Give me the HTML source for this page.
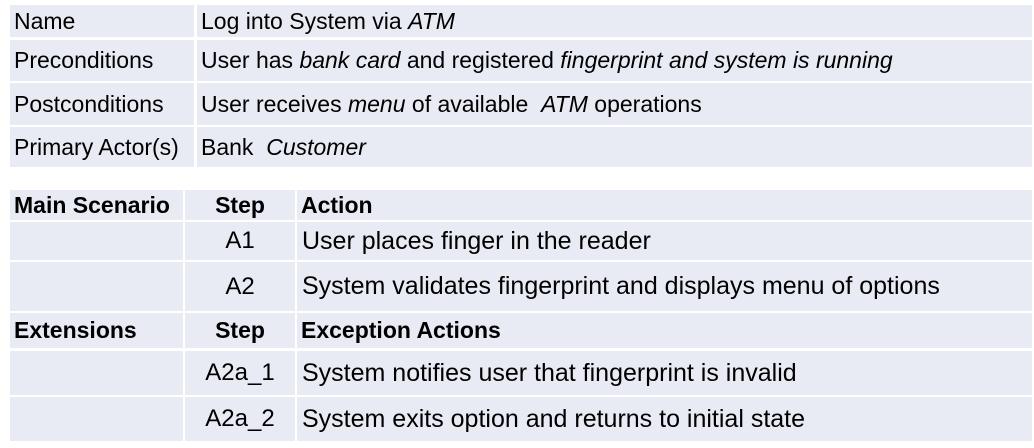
<!DOCTYPE html>
<html><head><style>
body{margin:0;width:1034px;height:448px;background:#fff;position:relative;overflow:hidden;font-family:"Liberation Sans",sans-serif;color:#000}
.c{position:absolute;background:#e8ebf4;font-size:23px;display:flex;align-items:center;box-sizing:border-box;padding-left:4px;white-space:nowrap}
.l{font-size:25px;padding-left:5px}
.s{font-size:24px}
.b{font-weight:bold;font-size:23px}
.ctr{justify-content:center;padding-left:0}
</style></head><body>
<div class="c" style="left:10px;top:5px;width:184px;height:32px">Name</div>
<div class="c" style="left:197px;top:5px;width:835px;height:32px">Log into System via&nbsp;<i>ATM</i></div>
<div class="c" style="left:10px;top:40px;width:184px;height:41px">Preconditions</div>
<div class="c" style="left:197px;top:40px;width:835px;height:41px">User has&nbsp;<i>bank card</i>&nbsp;and registered&nbsp;<i>fingerprint and system is running</i></div>
<div class="c" style="left:10px;top:83px;width:184px;height:42px">Postconditions</div>
<div class="c" style="left:197px;top:83px;width:835px;height:42px">User receives&nbsp;<i>menu</i>&nbsp;of available&nbsp;&nbsp;<i>ATM</i>&nbsp;operations</div>
<div class="c" style="left:10px;top:127px;width:184px;height:40px">Primary Actor(s)</div>
<div class="c" style="left:197px;top:127px;width:835px;height:40px">Bank&nbsp;&nbsp;<i>Customer</i></div>

<div class="c b" style="left:10px;top:190px;width:173px;height:30px">Main Scenario</div>
<div class="c b ctr" style="left:185px;top:190px;width:110px;height:30px">Step</div>
<div class="c b" style="left:297px;top:190px;width:735px;height:30px">Action</div>
<div class="c" style="left:10px;top:222px;width:173px;height:38px"></div>
<div class="c s ctr" style="left:185px;top:222px;width:110px;height:38px">A1</div>
<div class="c l" style="left:297px;top:222px;width:735px;height:38px">User places finger in the reader</div>
<div class="c" style="left:10px;top:262px;width:173px;height:49px"></div>
<div class="c s ctr" style="left:185px;top:262px;width:110px;height:49px">A2</div>
<div class="c l" style="left:297px;top:262px;width:735px;height:49px">System validates fingerprint and displays menu of options</div>
<div class="c b" style="left:10px;top:313px;width:173px;height:35px">Extensions</div>
<div class="c b ctr" style="left:185px;top:313px;width:110px;height:35px">Step</div>
<div class="c b" style="left:297px;top:313px;width:735px;height:35px">Exception Actions</div>
<div class="c" style="left:10px;top:351px;width:173px;height:44px"></div>
<div class="c s ctr" style="left:185px;top:351px;width:110px;height:44px">A2a_1</div>
<div class="c l" style="left:297px;top:351px;width:735px;height:44px">System notifies user that fingerprint is invalid</div>
<div class="c" style="left:10px;top:397px;width:173px;height:44px"></div>
<div class="c s ctr" style="left:185px;top:397px;width:110px;height:44px">A2a_2</div>
<div class="c l" style="left:297px;top:397px;width:735px;height:44px">System exits option and returns to initial state</div>
</body></html>
